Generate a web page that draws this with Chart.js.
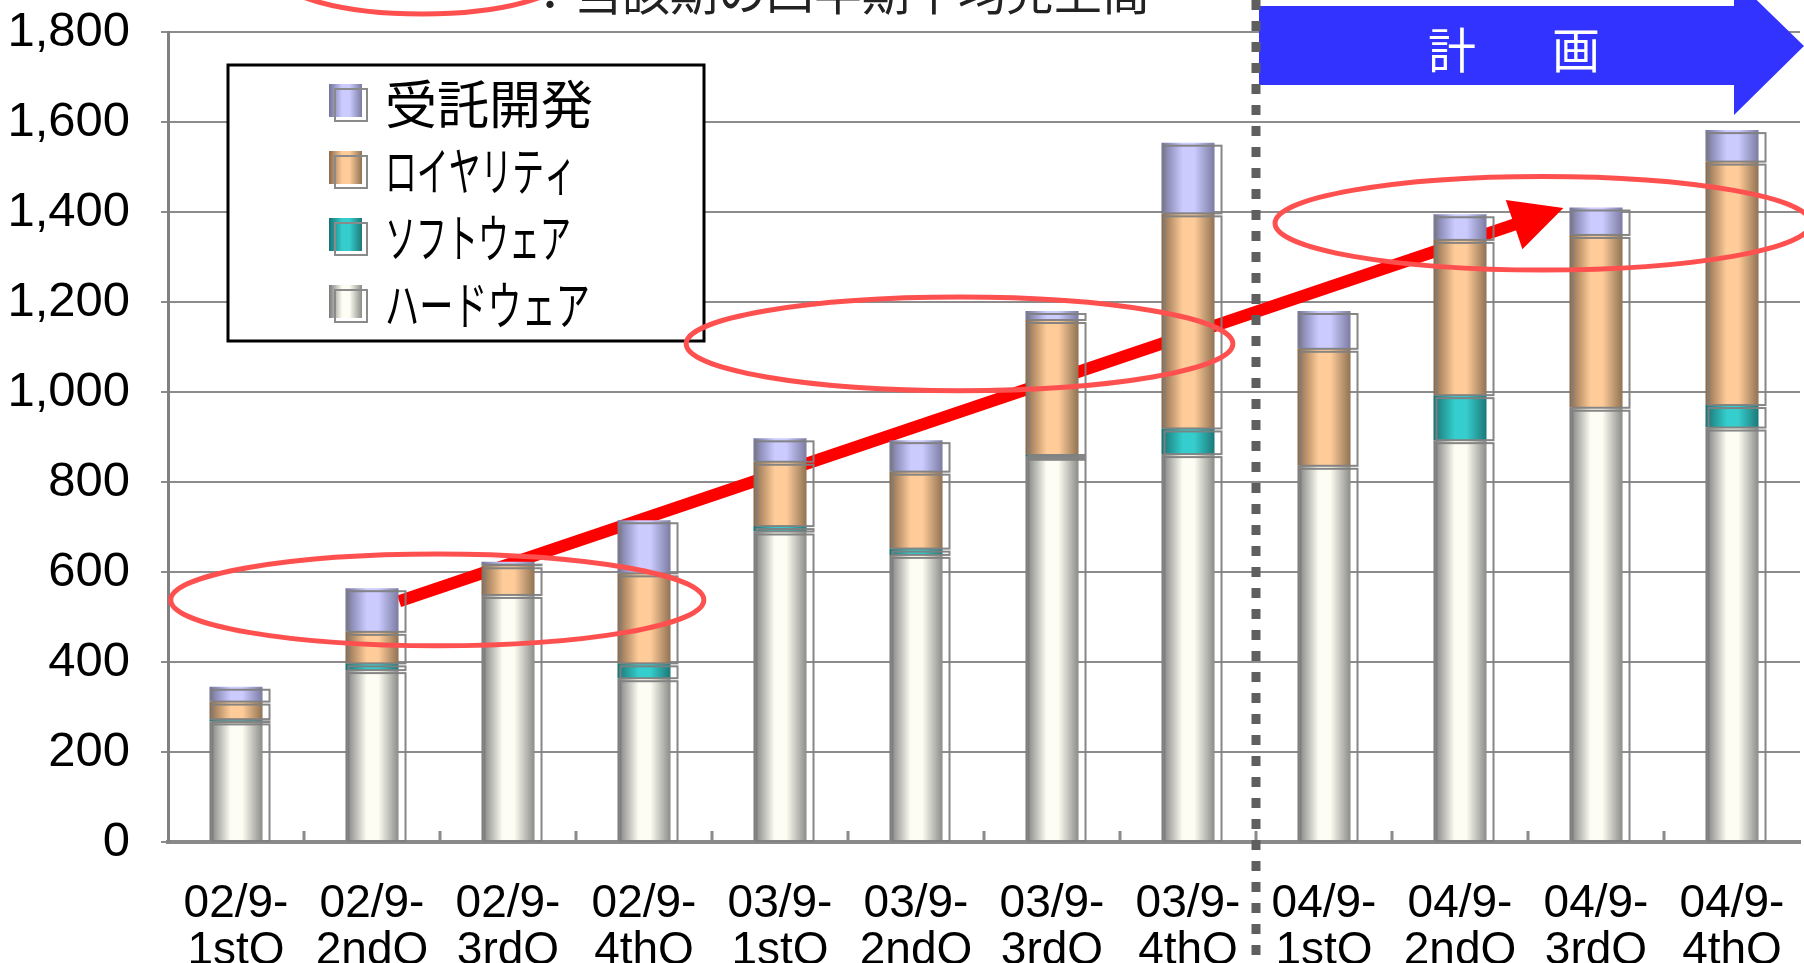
<!DOCTYPE html>
<html>
<head>
<meta charset="utf-8">
<script src="https://cdn.jsdelivr.net/npm/chart.js@4.4.1/dist/chart.umd.min.js"></script>
<style>
  html, body { margin: 0; padding: 0; background: #fff; }
  #wrap { width: 1804px; height: 963px; }
</style>
</head>
<body>
<div id="wrap"><canvas id="sales" width="1804" height="963"></canvas></div>
<script>
// quarters (two-line tick labels)
const quarters = [
  ['02/9-', '1stQ'], ['02/9-', '2ndQ'], ['02/9-', '3rdQ'], ['02/9-', '4thQ'],
  ['03/9-', '1stQ'], ['03/9-', '2ndQ'], ['03/9-', '3rdQ'], ['03/9-', '4thQ'],
  ['04/9-', '1stQ'], ['04/9-', '2ndQ'], ['04/9-', '3rdQ'], ['04/9-', '4thQ']
];

// stacked from the bottom up
const hardware = [268, 382, 549, 364, 690, 638, 856, 862, 836, 893, 965, 921];
const software = [5, 15, 0, 33, 12, 14, 4, 57, 0, 100, 0, 50];
const royalty  = [39, 70, 66, 200, 143, 171, 300, 478, 260, 345, 384, 541];
const contract = [33, 97, 8, 118, 52, 70, 20, 157, 84, 57, 61, 70];

const yMax = 1800;
const yStep = 200;

// annotations, in data units (x = category index, y = value)
const trendArrow = { from: [1.2, 535], to: [9.76, 1409] };
const avgEllipses = [
  { x: 1.48, y: 538, rx: 1.96, ry: 102 },
  { x: 5.32, y: 1107, rx: 2.01, ry: 104 },
  { x: 9.61, y: 1375, rx: 1.97, ry: 104 }
];
const planStart = 7.5;
const caption = '：当該期の四半期平均売上高';
const planText = ['計', '画'];
const legendTextWidths = [217, 191, 186, 205];

const barPct = 0.39;
const numFont = "'Liberation Sans', Arial, sans-serif";
const jpFont = "'Noto Sans CJK JP', sans-serif";

// [left edge, highlight, right edge]
const shades = {
  hw: ['#7a7a7a', '#fdfdf3', '#8c8c88'],
  sw: ['#1a7272', '#35cdcd', '#1e7878'],
  ry: ['#8a6a4b', '#ffcc99', '#907253'],
  ct: ['#73739a', '#cbcbff', '#7b7ba2']
};

function cylGrad(c, x0, x1, s) {
  const g = c.createLinearGradient(x0, 0, x1, 0);
  g.addColorStop(0, s[0]);
  g.addColorStop(0.4, s[1]);
  g.addColorStop(0.62, s[1]);
  g.addColorStop(1, s[2]);
  return g;
}

function cylinder(s) {
  return function (ctx) {
    const xs = ctx.chart.scales.x;
    if (!xs || !xs.width || ctx.dataIndex === undefined) return s[1];
    const cx = xs.getPixelForValue(ctx.dataIndex);
    const half = xs.width / quarters.length * barPct / 2;
    return cylGrad(ctx.chart.ctx, cx - half, cx + half, s);
  };
}

function ds(label, data, s) {
  return {
    label: label,
    data: data,
    stack: 'all',
    backgroundColor: cylinder(s),
    shade: s,
    borderWidth: 0,
    categoryPercentage: 1,
    barPercentage: barPct
  };
}

const px = (chart, i) => chart.scales.x.getPixelForValue(i);
const py = (chart, v) => chart.scales.y.getPixelForValue(v);

const behindBars = {
  id: 'behindBars',
  beforeDatasetsDraw(chart) {
    const c = chart.ctx;
    const x0 = px(chart, trendArrow.from[0]), y0 = py(chart, trendArrow.from[1]);
    const x1 = px(chart, trendArrow.to[0]), y1 = py(chart, trendArrow.to[1]);
    const ang = Math.atan2(y1 - y0, x1 - x0);
    const headLen = 52, headHalf = 26;
    const bx = x1 - headLen * Math.cos(ang), by = y1 - headLen * Math.sin(ang);
    c.save();
    c.strokeStyle = '#ff0000';
    c.lineWidth = 12;
    c.beginPath();
    c.moveTo(x0, y0);
    c.lineTo(bx + 2 * Math.cos(ang), by + 2 * Math.sin(ang));
    c.stroke();
    c.fillStyle = '#ff0000';
    c.beginPath();
    c.moveTo(x1, y1);
    c.lineTo(bx + headHalf * Math.sin(ang), by - headHalf * Math.cos(ang));
    c.lineTo(bx - headHalf * Math.sin(ang), by + headHalf * Math.cos(ang));
    c.closePath();
    c.fill();
    c.restore();
  }
};

const overlay = {
  id: 'overlay',
  afterDatasetsDraw(chart) {
    const c = chart.ctx;
    const area = chart.chartArea;
    c.save();

    // back outline of every cylinder segment
    c.strokeStyle = 'rgba(128,128,128,0.95)';
    c.lineWidth = 2;
    chart.getSortedVisibleDatasetMetas().forEach(meta => {
      meta.data.forEach(bar => {
        const p = bar.getProps(['x', 'y', 'base', 'width'], true);
        if (Math.abs(p.base - p.y) < 0.5) return;
        c.strokeRect(p.x - p.width / 2 + 3, p.y + 3, p.width + 4, p.base - p.y - 3);
      });
    });

    // small tick marks standing inside the x axis
    c.strokeStyle = '#8a8a8a';
    c.lineWidth = 3;
    for (let i = 1; i < quarters.length; i++) {
      const x = px(chart, i - 0.5);
      c.beginPath();
      c.moveTo(x, area.bottom);
      c.lineTo(x, area.bottom - 11);
      c.stroke();
    }

    // legend box
    const lg = { l: 228, t: 65, r: 704, b: 341 };
    c.fillStyle = '#fff';
    c.fillRect(lg.l, lg.t, lg.r - lg.l, lg.b - lg.t);
    c.strokeStyle = '#000';
    c.lineWidth = 3;
    c.strokeRect(lg.l, lg.t, lg.r - lg.l, lg.b - lg.t);
    const items = chart.data.datasets.slice().reverse();
    items.forEach((d, k) => {
      const cy = 102 + k * 67;
      c.strokeStyle = '#8a8a8a';
      c.lineWidth = 2;
      c.strokeRect(335, cy - 13, 32, 32);
      c.fillStyle = cylGrad(c, 329, 362, d.shade);
      c.fillRect(329, cy - 18, 33, 33);
      c.strokeRect(335, cy - 13, 32, 32);
      c.fillStyle = '#000';
      c.font = '52px ' + jpFont;
      c.textAlign = 'left';
      c.textBaseline = 'middle';
      c.fillText(d.label, 385, cy + 2, legendTextWidths[k]);
    });

    // quarterly-average ellipses
    c.strokeStyle = '#ff5050';
    c.lineWidth = 5;
    avgEllipses.forEach(e => {
      const cx = px(chart, e.x), cy = py(chart, e.y);
      const rx = px(chart, e.x + e.rx) - cx;
      const ry = cy - py(chart, e.y + e.ry);
      c.beginPath();
      c.ellipse(cx, cy, rx, ry, 0, 0, Math.PI * 2);
      c.stroke();
    });

    // sample ellipse + caption at the very top (cut off by the edge)
    c.beginPath();
    c.ellipse(422, -26, 145, 40, 0, 0, Math.PI * 2);
    c.stroke();
    c.fillStyle = '#222';
    c.font = '48px ' + jpFont;
    c.textAlign = 'left';
    c.textBaseline = 'alphabetic';
    c.fillText(caption, 526, 10);

    // blue "plan" arrow
    const xp = px(chart, planStart);
    c.fillStyle = '#3333ff';
    c.beginPath();
    c.moveTo(xp + 3, 6);
    c.lineTo(1734, 6);
    c.lineTo(1734, -22);
    c.lineTo(1804, 46);
    c.lineTo(1734, 115);
    c.lineTo(1734, 85);
    c.lineTo(xp + 3, 85);
    c.closePath();
    c.fill();
    c.fillStyle = '#fff';
    c.font = '48px ' + jpFont;
    c.textAlign = 'center';
    c.textBaseline = 'middle';
    c.fillText(planText[0], 1452, 50);
    c.fillText(planText[1], 1576, 50);

    // dotted divider between actual and plan
    c.strokeStyle = '#5f5f5f';
    c.lineWidth = 9;
    c.setLineDash([10, 11]);
    c.beginPath();
    c.moveTo(xp, 0);
    c.lineTo(xp, 963);
    c.stroke();
    c.setLineDash([]);

    c.restore();
  }
};

new Chart(document.getElementById('sales'), {
  type: 'bar',
  data: {
    labels: quarters,
    datasets: [
      ds('ハードウェア', hardware, shades.hw),
      ds('ソフトウェア', software, shades.sw),
      ds('ロイヤリティ', royalty, shades.ry),
      ds('受託開発', contract, shades.ct)
    ]
  },
  options: {
    responsive: false,
    devicePixelRatio: 1,
    animation: false,
    layout: { padding: { top: 32, right: 4, left: 0, bottom: 0 } },
    plugins: {
      legend: { display: false },
      tooltip: { enabled: false },
      title: { display: false }
    },
    scales: {
      x: {
        stacked: true,
        offset: true,
        grid: { display: false },
        border: { display: true, color: '#8a8a8a', width: 4 },
        ticks: {
          color: '#000',
          padding: 31,
          maxRotation: 0,
          autoSkip: false,
          font: { family: numFont, size: 46, lineHeight: 47 / 46 }
        },
        afterFit(scale) {
          scale.height = 121;
          scale.paddingLeft = 0;
          scale.paddingRight = 0;
        }
      },
      y: {
        stacked: true,
        min: 0,
        max: yMax,
        grid: { color: '#8c8c8c', lineWidth: 2, tickLength: 7 },
        border: { display: true, color: '#808080', width: 3 },
        ticks: {
          stepSize: yStep,
          color: '#000',
          padding: 31,
          font: { family: numFont, size: 49 },
          callback: v => v.toLocaleString('en-US')
        },
        afterFit(scale) {
          scale.width = 168;
          scale.paddingTop = 0;
          scale.paddingBottom = 0;
        }
      }
    }
  },
  plugins: [behindBars, overlay]
});
</script>
</body>
</html>
